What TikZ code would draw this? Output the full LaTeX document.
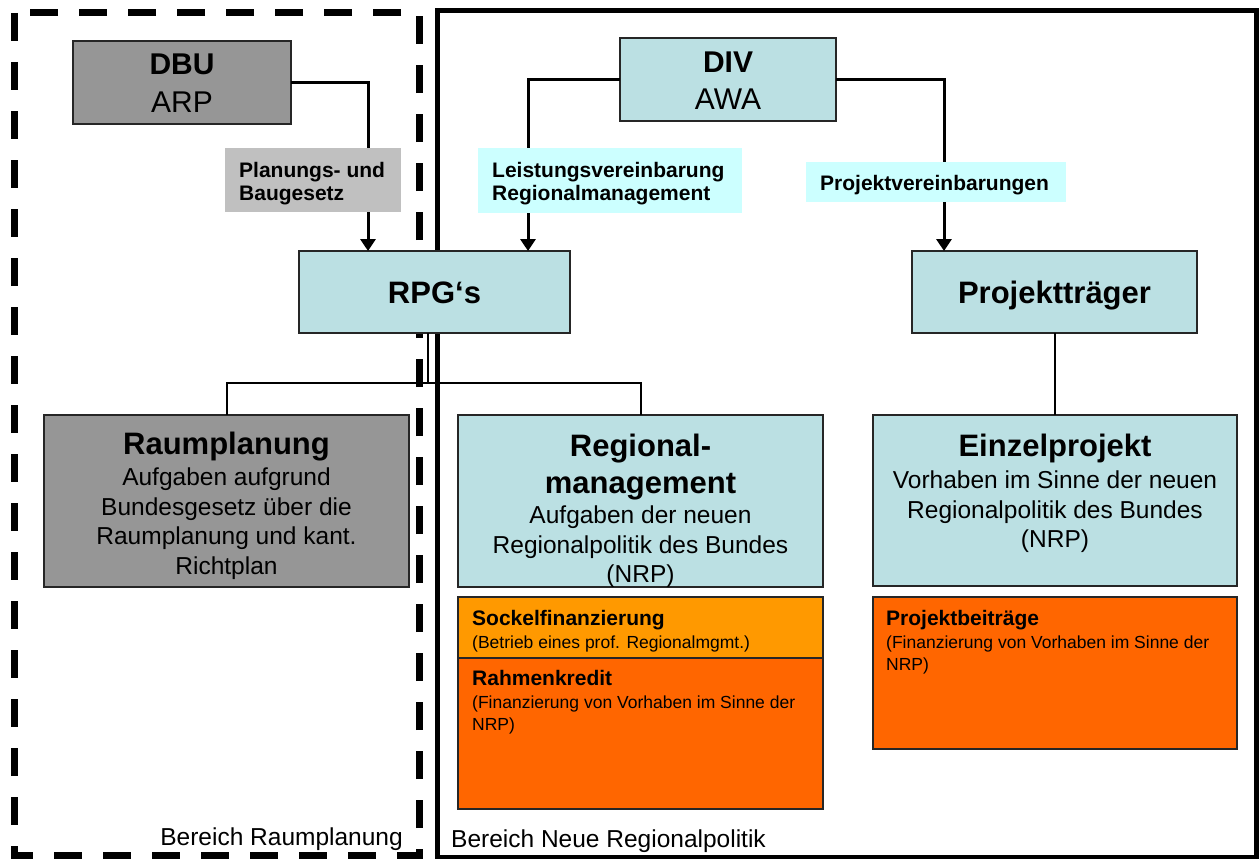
\documentclass[tikz,border=0pt]{standalone}
\usepackage{fontspec}
\setmainfont{Liberation Sans}
\usetikzlibrary{arrows.meta,calc}
\definecolor{boxgray}{RGB}{150,150,150}
\definecolor{boxblue}{RGB}{187,224,227}
\definecolor{lblgray}{RGB}{192,192,192}
\definecolor{lblcyan}{RGB}{204,255,255}
\definecolor{orangeA}{RGB}{255,153,0}
\definecolor{orangeB}{RGB}{255,102,0}
\begin{document}
\begin{tikzpicture}[x=1pt,y=-1pt,
  box/.style={draw=black!85, line width=1.3pt, inner sep=0pt, outer sep=0pt, anchor=north west},
  lbl/.style={inner sep=0pt, outer sep=0pt, anchor=north west},
  hdr/.style={inner sep=0pt, font=\bfseries\fontsize{31}{37}\selectfont, align=center},
  big/.style={inner sep=0pt, font=\fontsize{30}{36}\selectfont},
  bigb/.style={inner sep=0pt, font=\bfseries\fontsize{30}{36}\selectfont},
  body/.style={inner sep=0pt, font=\fontsize{24.5}{29.5}\selectfont, align=center},
  lbltext/.style={inner sep=0pt, font=\bfseries\fontsize{21}{23}\selectfont, align=left},
  smallb/.style={inner sep=0pt, font=\bfseries\fontsize{21}{23}\selectfont},
  small/.style={inner sep=0pt, font=\fontsize{17.5}{22}\selectfont, align=left},
  area/.style={inner sep=0pt, font=\fontsize{24.5}{29}\selectfont},
  conn/.style={line width=3pt, -{Triangle[width=15pt,length=12pt]}},
  tree/.style={line width=2pt}
]
\useasboundingbox (0,0) rectangle (1259,859);
% area frames
\draw[line width=7pt, dash pattern=on 28pt off 21pt] (14,13) rectangle (419,855);
\draw[line width=5pt] (437,11) rectangle (1256,857);

% boxes
\node[box, fill=boxgray, minimum width=218pt, minimum height=83pt] (dbu) at (73,41) {};
\node[box, fill=boxblue, minimum width=216pt, minimum height=83pt] (div) at (620,38) {};
\node[box, fill=boxblue, minimum width=271pt, minimum height=82pt] (rpg) at (299,251) {};
\node[box, fill=boxblue, minimum width=285pt, minimum height=82pt] (pt) at (912,251) {};
\node[box, fill=boxgray, minimum width=365pt, minimum height=172pt] (raum) at (44,415) {};
\node[box, fill=boxblue, minimum width=365pt, minimum height=172pt] (reg) at (458,415) {};
\node[box, fill=boxblue, minimum width=364pt, minimum height=171pt] (ein) at (873,415) {};
\node[box, fill=orangeA, minimum width=365pt, minimum height=61pt] (sock) at (458,597) {};
\node[box, fill=orangeB, minimum width=365pt, minimum height=151pt] (rahm) at (458,658) {};
\node[box, fill=orangeB, minimum width=364pt, minimum height=152pt] (pbei) at (873,597) {};

% texts in boxes
\node[bigb, anchor=base] (dbuA) at (182,75) {DBU};
\node[big, anchor=base] (dbuB) at (182,113) {ARP};
\node[bigb, anchor=base] (divA) at (728,73) {DIV};
\node[big, anchor=base] (divB) at (728,110) {AWA};
\node[hdr, anchor=base] (rpgT) at (434.5,303) {RPG‘s};
\node[hdr, anchor=base] (ptT) at (1054.5,303) {Projektträger};
\node[hdr, anchor=base] (raumA) at (226.5,454) {Raumplanung};
\node[body, anchor=north] (raumB) at (226.5,468) {Aufgaben aufgrund\\Bundesgesetz über die\\Raumplanung und kant.\\Richtplan};
\node[hdr, anchor=north] (regA) at (640.5,434) {Regional-\\management};
\node[body, anchor=north] (regB) at (640.5,506) {Aufgaben der neuen\\Regionalpolitik des Bundes\\(NRP)};
\node[hdr, anchor=base] (einA) at (1055,456) {Einzelprojekt};
\node[body, anchor=north] (einB) at (1055,471) {Vorhaben im Sinne der neuen\\Regionalpolitik des Bundes\\(NRP)};
\node[smallb, anchor=base west] (sockA) at (472,625) {Sockelfinanzierung};
\node[small, anchor=base west] (sockB) at (472,648) {(Betrieb eines prof. Regionalmgmt.)};
\node[smallb, anchor=base west] (rahmA) at (472,685) {Rahmenkredit};
\node[small, anchor=north west] (rahmB) at (472,695.2) {(Finanzierung von Vorhaben im Sinne der\\NRP)};
\node[smallb, anchor=base west] (pbeiA) at (886,625) {Projektbeiträge};
\node[small, anchor=north west] (pbeiB) at (886,635.2) {(Finanzierung von Vorhaben im Sinne der\\NRP)};

% connectors
\draw[conn] (dbu.east) -| ($(rpg.north west)+(69,0)$);
\draw[conn] (div.west) -| ($(rpg.north west)+(229,0)$);
\draw[conn] (div.east) -| ($(pt.north west)+(32,0)$);
\coordinate (hub) at ($(rpg.south west)+(129,50)$);
\draw[tree] ($(rpg.south west)+(129,0)$) -- (hub);
\draw[tree] (raum.north) |- (hub) -| (reg.north);
\draw[tree] (pt.south) -- (pt.south |- ein.north);

% connector labels
\node[lbl, fill=lblgray, minimum width=176pt, minimum height=64pt] (lblA) at (225,148) {};
\node[lbltext, anchor=north west] (lblAT) at (239,161.7) {Planungs- und\\Baugesetz};
\node[lbl, fill=lblcyan, minimum width=264pt, minimum height=65pt] (lblB) at (478,148) {};
\node[lbltext, anchor=north west] (lblBT) at (492,161.7) {Leistungsvereinbarung\\Regionalmanagement};
\node[lbl, fill=lblcyan, minimum width=260pt, minimum height=40pt] (lblC) at (806,162) {};
\node[smallb, anchor=base west] (lblCT) at (820,190) {Projektvereinbarungen};

% area captions
\node[area, anchor=base east] (capA) at (403,845) {Bereich Raumplanung};
\node[area, anchor=base west] (capB) at (451,847) {Bereich Neue Regionalpolitik};
\end{tikzpicture}
\end{document}
